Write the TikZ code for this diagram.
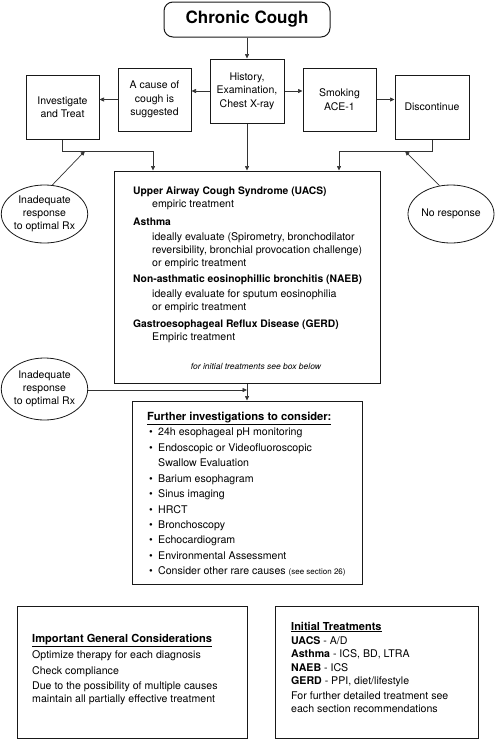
\documentclass[tikz,border=0pt]{standalone}
\usepackage{fontspec}
\setmainfont{TeX Gyre Heros}
\usetikzlibrary{arrows.meta,shapes.geometric,calc}
\begin{document}
\begin{tikzpicture}[x=1pt,y=-1pt,
  arr/.style={draw=black!80,line width=0.7pt,-{Triangle[length=4.5pt,width=4pt]}},
  bx/.style={draw=black!90,line width=1pt,rectangle,inner sep=0pt,align=center,
    font=\fontsize{10.5}{13.4}\selectfont},
  el/.style={draw=black!90,line width=0.8pt,ellipse,inner sep=0pt,align=center,
    font=\fontsize{10.5}{13.2}\selectfont},
  tx/.style={anchor=base west,inner sep=0pt,font=\fontsize{10.6}{12}\selectfont},
  tb/.style={tx,font=\fontsize{10.3}{12}\selectfont\bfseries},
]
\useasboundingbox (0,0) rectangle (495,740);
% top nodes
\node[bx,rounded corners=9pt,minimum width=166pt,minimum height=35pt,
  font=\fontsize{17}{20}\selectfont\bfseries] (cc) at (247,19.5) {Chronic Cough};
\node[bx,minimum width=74pt,minimum height=64pt] (hist) at (247,91) {History,\\Examination,\\Chest X-ray};
\node[bx,minimum width=73pt,minimum height=63pt] (cause) at (154.5,99.5) {A cause of\\cough is\\suggested};
\node[bx,minimum width=73pt,minimum height=64pt] (inv) at (62.5,107) {Investigate\\and Treat};
\node[bx,minimum width=73pt,minimum height=63pt] (smok) at (339.5,99.5) {Smoking\\ACE-1};
\node[bx,minimum width=74pt,minimum height=64pt] (disc) at (432,107) {Discontinue};
% ellipses
\node[el,minimum width=85pt,minimum height=58pt] (e1) at (44.5,214) {Inadequate\\response\\to optimal Rx};
\node[el,minimum width=86pt,minimum height=58pt] (e3) at (451,214) {No response};
\node[el,minimum width=85pt,minimum height=62pt] (e2) at (44.5,389) {Inadequate\\response\\to optimal Rx};
% big box
\node[bx,minimum width=266pt,minimum height=212pt] (big) at (247,277) {};
\node[tb] (b1) at (133,194.5) {Upper Airway Cough Syndrome (UACS)};
\node[tx] (b2) at (152,207) {empiric treatment};
\node[tb] (b3) at (133,225.5) {Asthma};
\node[tx] (b4) at (152,240) {ideally evaluate (Spirometry, bronchodilator};
\node[tx] (b5) at (152,253) {reversibility, bronchial provocation challenge)};
\node[tx] (b6) at (152,266) {or empiric treatment};
\node[tb] (b7) at (133,282.5) {Non-asthmatic eosinophillic bronchitis (NAEB)};
\node[tx] (b8) at (152,297) {ideally evaluate for sputum eosinophilia};
\node[tx] (b9) at (152,310) {or empiric treatment};
\node[tb] (b10) at (133,327.5) {Gastroesophageal Reflux Disease (GERD)};
\node[tx] (b11) at (152,340.5) {Empiric treatment};
\node[anchor=base,inner sep=0pt,font=\fontsize{8.5}{10}\selectfont\itshape] (bn) at (256,369) {for initial treatments see box below};
% further box
\node[bx,minimum width=230pt,minimum height=183pt] (fur) at (247,492.5) {};
\node[tx,font=\fontsize{11.2}{13}\selectfont\bfseries] (f0) at (147,420) {\underline{Further investigations to consider:}};
\foreach \i/\y/\t in {1/435/24h esophageal pH monitoring,
  2/451/Endoscopic or Videofluoroscopic,
  4/482/Barium esophagram,
  5/497/Sinus imaging,
  6/513/HRCT,
  7/528/Bronchoscopy,
  8/543/Echocardiogram,
  9/559/Environmental Assessment}{
  \node[tx] (fb\i) at (149,\y) {\textbullet};
  \node[tx] (f\i) at (158,\y) {\t};
}
\node[tx] (f3) at (158,466) {Swallow Evaluation};
\node[tx] (fb10) at (149,574) {\textbullet};
\node[tx] (f10) at (158,574) {Consider other rare causes {\fontsize{8}{9}\selectfont(see section 26)}};
% bottom boxes
\node[bx,minimum width=230pt,minimum height=132pt] (gen) at (132,672) {};
\node[tx,font=\fontsize{11.1}{13}\selectfont\bfseries] (g0) at (32,642) {\underline{Important General Considerations}};
\node[tx] (g1) at (32,658) {Optimize therapy for each diagnosis};
\node[tx] (g2) at (32,674) {Check compliance};
\node[tx] (g3) at (32,689) {Due to the possibility of multiple causes};
\node[tx] (g4) at (32,702) {maintain all partially effective treatment};
\node[bx,minimum width=203pt,minimum height=132pt] (ini) at (376.5,672) {};
\node[tx,font=\fontsize{11}{13}\selectfont\bfseries] (i0) at (291,630) {\underline{Initial Treatments}};
\node[tx] (i1) at (291,644) {\textbf{UACS} - A/D};
\node[tx] (i2) at (291,657.5) {\textbf{Asthma} - ICS, BD, LTRA};
\node[tx] (i3) at (291,671) {\textbf{NAEB} - ICS};
\node[tx] (i4) at (291,684.5) {\textbf{GERD} - PPI, diet/lifestyle};
\node[tx] (i5) at (291,699) {For further detailed treatment see};
\node[tx] (i6) at (291,712) {each section recommendations};
% connectors
\draw[arr] (cc.south) -- (hist.north);
\draw[arr] (hist.west) -- (hist.west -| cause.east);
\draw[arr] (hist.east) -- (hist.east -| smok.west);
\draw[arr] (cause.west) -- (cause.west -| inv.east);
\draw[arr] (smok.east) -- (smok.east -| disc.west);
\draw[arr] (hist.south) -- (big.north);
\coordinate (jl) at (153,151);
\coordinate (jr) at (339,151);
\coordinate (tl) at (85,151);
\coordinate (tr) at (405,151);
\draw[arr] (inv.south) |- (jl) -- (jl |- big.north);
\draw[arr] (disc.south) |- (jr) -- (jr |- big.north);
\draw[arr] (e1.75) -- (tl);
\draw[arr] (e3.112) -- (tr);
\draw[arr] (big.south) -- (fur.north);
\coordinate (jm) at (247,390);
\draw[arr] (e2.east |- jm) -- (jm);
\end{tikzpicture}
\end{document}
